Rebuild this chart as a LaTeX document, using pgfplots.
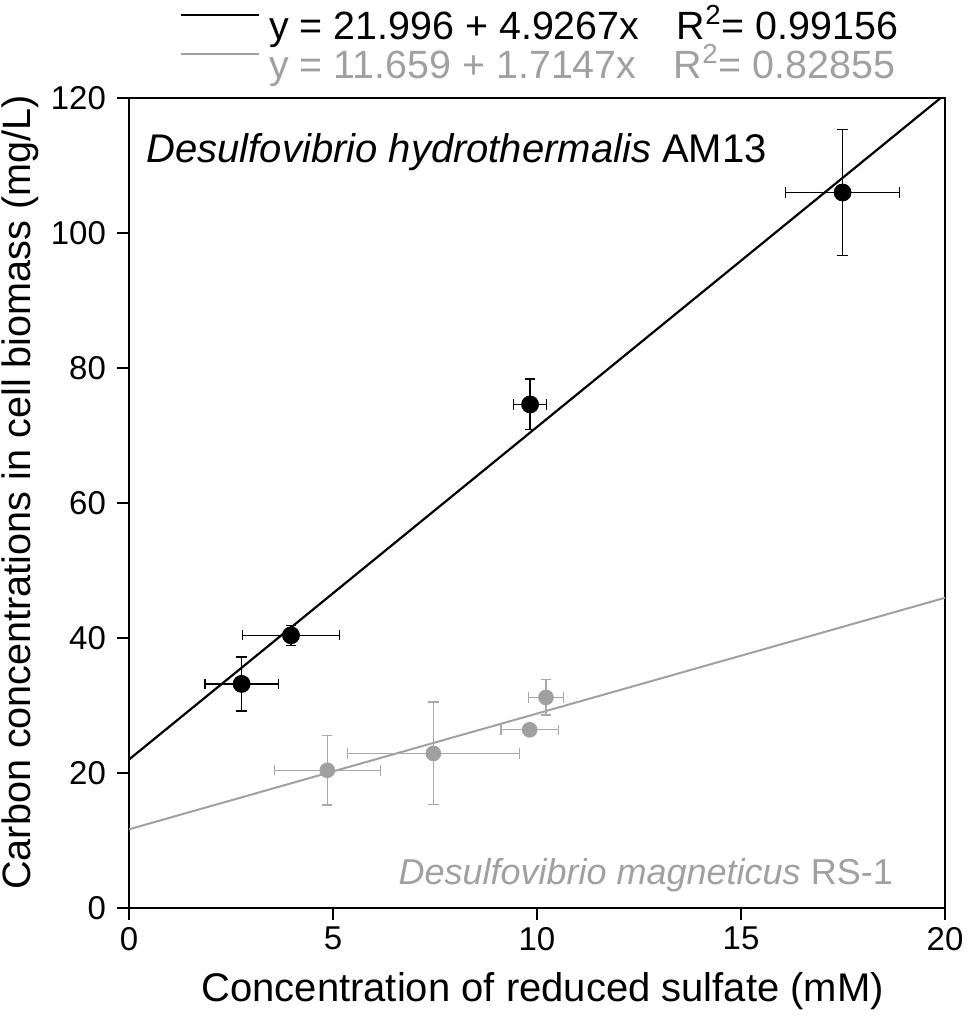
\documentclass[border=0pt]{standalone}
\usepackage{fontspec}
\setmainfont{Liberation Sans}
\usepackage{pgfplots}
\usepackage{pgfplotstable}
\pgfplotsset{compat=1.18}
\definecolor{mygray}{RGB}{160,160,160}
\definecolor{bargray}{RGB}{168,168,168}

\pgfplotstableread{
x y ex ey
2.76 33.2 0.90 4.0
3.97 40.4 1.19 1.5
9.83 74.6 0.40 3.75
17.49 106.0 1.40 9.3
}\blackdata

\pgfplotstableread{
x y ex ey
4.86 20.4 1.30 5.15
7.46 22.9 2.11 7.6
9.82 26.4 0.70 0
10.22 31.2 0.43 2.6
}\graydata

\begin{document}
\begin{tikzpicture}
\begin{axis}[
  scale only axis,
  width=408pt, height=405pt,
  xmin=0, xmax=20, ymin=0, ymax=120,
  xtick={0,5,10,15,20}, ytick={0,20,40,60,80,100,120},
  xtick pos=bottom, ytick pos=left,
  tick align=outside,
  major tick length=6pt,
  tick style={line width=0.7pt, black},
  axis line style={line width=1pt},
  /pgf/number format/assume math mode=true,
  tick label style={font=\fontsize{16.5}{18}\selectfont},
  yticklabel style={xshift=-2pt},
  xlabel={Concentration of reduced sulfate (mM)},
  ylabel={Carbon concentrations in cell biomass (mg/L)},
  xlabel style={font=\fontsize{20}{22}\selectfont, at={(axis description cs:0.507,-0.116)}, anchor=base},
  ylabel style={font=\fontsize{19.8}{22}\selectfont, at={(axis description cs:-0.1336,0.513)}, anchor=center},
  legend style={at={(axis description cs:0.0625,1.1062)}, anchor=north west, draw=none, fill=none,
    inner sep=0pt, outer sep=0pt, row sep=0pt, column sep=4.5pt,
    nodes={inner sep=0pt, outer sep=0pt, text height=14pt, text depth=5.5pt, font=\fontsize{19.7}{21}\selectfont, anchor=base west}},
  legend cell align=left,
  legend image code/.code={\draw[#1] (0pt,12.5pt) -- (39pt,12.5pt);},
]
\addplot[black, line width=1.1pt] coordinates {(0,21.996) (20,120.53)};
\addlegendentry{y = 21.996 + 4.9267x\hspace{0.95em}R\textsuperscript{2}= 0.99156}
\addplot[mygray, line width=1pt] coordinates {(0,11.659) (20,45.953)};
\addlegendentry{\textcolor{mygray}{y = 11.659 + 1.7147x\hspace{0.95em}R\textsuperscript{2}= 0.82855}}

\addplot[forget plot, only marks, mark=*, mark size=3.7pt, mark options={draw=mygray, fill=mygray},
  error bars/.cd, x dir=both, x explicit, y dir=both, y explicit,
  error bar style={line width=0.65pt, bargray},
  error mark options={rotate=90, mark size=2.6pt, line width=0.65pt, bargray}]
  table[x=x, y=y, x error=ex, y error=ey] {\graydata};

\addplot[forget plot, only marks, mark=*, mark size=4.25pt, mark options={draw=black, fill=black},
  error bars/.cd, x dir=both, x explicit, y dir=both, y explicit,
  error bar style={line width=0.65pt, black},
  error mark options={rotate=90, mark size=2.6pt, line width=0.65pt, black}]
  table[x=x, y=y, x error=ex, y error=ey] {\blackdata};

\node[anchor=base west, font=\fontsize{20}{22}\selectfont, inner sep=0pt] at (axis cs:0.42,110.4) {\textit{Desulfovibrio hydrothermalis} AM13};
\node[anchor=base east, font=\fontsize{18}{20}\selectfont, inner sep=0pt, text=mygray] at (axis cs:18.73,3.45) {\textit{Desulfovibrio magneticus} RS-1};
\end{axis}
\pgfresetboundingbox
\path (-64.5pt,-54pt) rectangle (423pt,454pt);
\end{tikzpicture}
\end{document}
